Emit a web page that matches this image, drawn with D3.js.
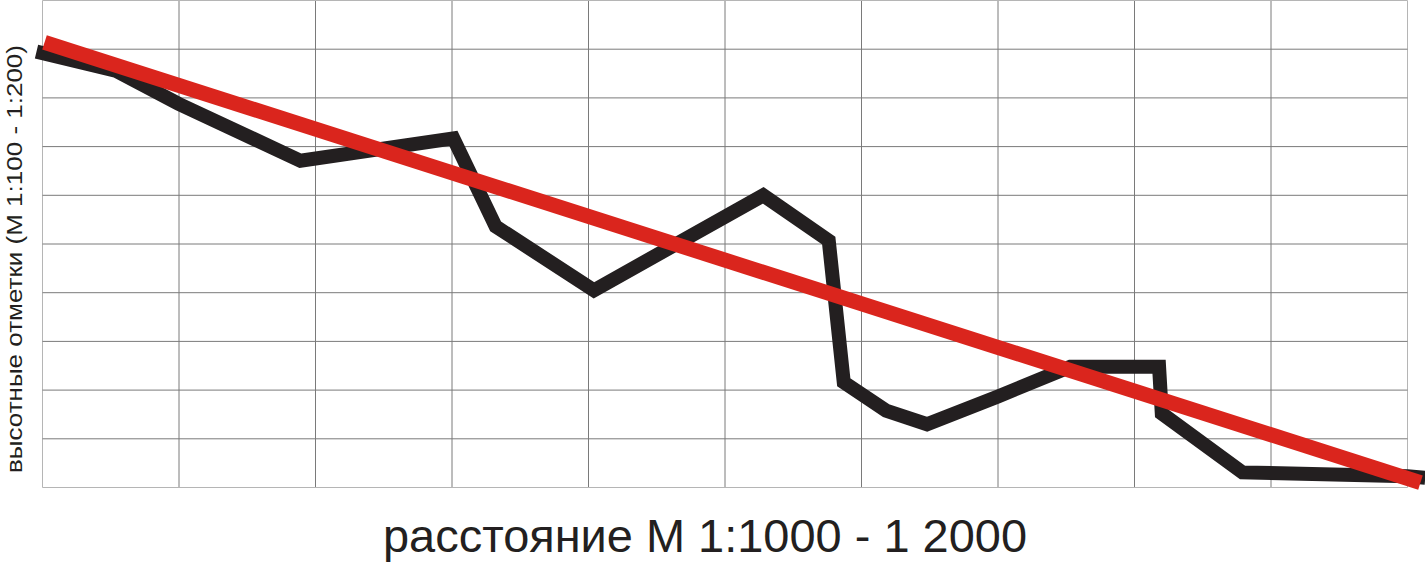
<!DOCTYPE html>
<html><head><meta charset="utf-8">
<script src="https://cdn.jsdelivr.net/npm/d3@7"></script>
<style>body{margin:0;background:#fff}svg{display:block}</style>
</head><body>
<script>
// grid units (10 columns x 10 rows)
const gridX = [0,1,2,3,4,5,6,7,8,9,10];
const gridY = [0,1,2,3,4,5,6,7,8,9,10];
// profile (black) line: distance, elevation in grid units
const profileX = [-0.044,0.535,0.996,1.89,3.01,3.32,4.04,5.28,5.76,5.87,6.18,6.48,7.0,7.53,8.18,8.2,8.79,10.0,10.13];
const profileY = [8.95,8.56,7.88,6.71,7.17,5.36,4.05,6.0,5.07,2.16,1.58,1.30,1.87,2.48,2.48,1.52,0.31,0.23,0.2];
// trend (red) line
const trendX = [0.015,10.095];
const trendY = [9.14,0.10];
const xTitle = "расстояние М 1:1000 - 1 2000";
const yTitle = "высотные отметки (М 1:100 - 1:200)";

const W=1425,H=562;
const svg=d3.select("body").append("svg").attr("width",W).attr("height",H);
const x=d3.scaleLinear().domain([0,10]).range([42.5,1407.5]);
const y=d3.scaleLinear().domain([0,10]).range([487.5,0.5]);

const g=svg.append("g");
g.selectAll("line.v").data(gridX).join("line")
 .attr("x1",d=>x(d)).attr("x2",d=>x(d)).attr("y1",y(10)).attr("y2",y(0))
 .attr("stroke",d=>(d===0||d===10)?"#b5b5b5":"#7a7a7a").attr("stroke-width",1);
g.selectAll("line.h").data(gridY).join("line")
 .attr("x1",x(0)).attr("x2",x(10)).attr("y1",d=>y(d)).attr("y2",d=>y(d))
 .attr("stroke",d=>(d===0||d===10)?"#b5b5b5":"#7a7a7a").attr("stroke-width",1);

const line=d3.line().x(d=>x(d[0])).y(d=>y(d[1]));
svg.append("path").datum(profileX.map((v,i)=>[v,profileY[i]]))
 .attr("d",line).attr("fill","none").attr("stroke","#231f20")
 .attr("stroke-width",14).attr("stroke-linejoin","miter");
svg.append("path").datum(trendX.map((v,i)=>[v,trendY[i]]))
 .attr("d",line).attr("fill","none").attr("stroke","#da251d")
 .attr("stroke-width",15);

svg.append("text").attr("x",383).attr("y",552).attr("text-anchor","start")
 .attr("font-family","Liberation Sans, Arial, sans-serif").attr("font-size",46)
 .attr("textLength",644).attr("lengthAdjust","spacingAndGlyphs")
 .attr("fill","#231f20").text(xTitle);
svg.append("text").attr("transform","translate(22,473) rotate(-90)")
 .attr("text-anchor","start").attr("font-family","Liberation Sans, Arial, sans-serif")
 .attr("font-size",22).attr("textLength",428).attr("lengthAdjust","spacingAndGlyphs")
 .attr("fill","#231f20").text(yTitle);
</script>
</body></html>
